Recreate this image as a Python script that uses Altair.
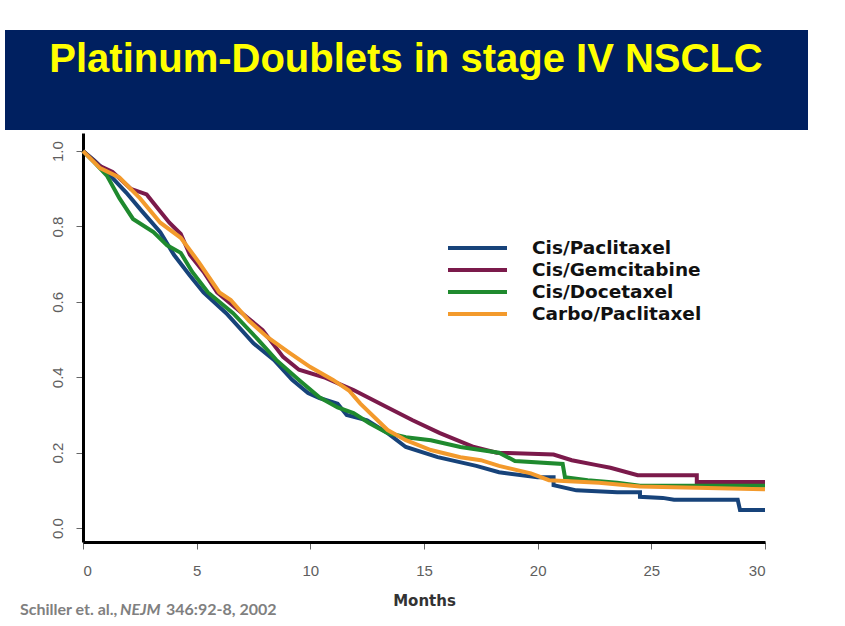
import altair as alt
import pandas as pd

# ---------------- data ----------------
title_text = "Platinum-Doublets in stage IV NSCLC"
footnote_a = "Schiller et. al., "
footnote_b = "NEJM"
footnote_c = " 346:92-8, 2002"

series_names = ["Cis/Paclitaxel", "Cis/Gemcitabine", "Cis/Docetaxel", "Carbo/Paclitaxel"]
series_colors = ["#17437A", "#7B1A4B", "#1F8A2E", "#F39A2C"]

x_ticks = [0, 5, 10, 15, 20, 25, 30]
y_ticks = [0.0, 0.2, 0.4, 0.6, 0.8, 1.0]

cis_pac_months = [0, 0.5, 1.2, 1.9, 2.6, 3.4, 4.0, 4.7, 5.3, 6.3, 7.5, 8.4, 9.2, 9.9,
                  10.4, 11.2, 11.6, 12.5, 13.4, 14.2, 15.6, 17.3, 18.3, 20.0, 20.7, 20.7,
                  21.7, 23.5, 24.5, 24.5, 25.5, 26.0, 28.8, 28.9, 30.0]
cis_pac_surv = [1.0, 0.975, 0.935, 0.89, 0.84, 0.785, 0.725, 0.67, 0.625, 0.57, 0.49, 0.446, 0.393, 0.358,
                0.345, 0.33, 0.30, 0.286, 0.252, 0.215, 0.188, 0.165, 0.148, 0.135, 0.135, 0.114,
                0.10, 0.095, 0.095, 0.083, 0.08, 0.075, 0.075, 0.048, 0.048]

cis_gem_months = [0, 0.75, 1.3, 2.1, 2.8, 3.4, 3.8, 4.3, 4.7, 5.3, 5.9, 7.2, 7.9, 8.8, 9.5,
                  10.6, 11.9, 13.4, 14.5, 15.7, 17.2, 18.2, 20.7, 21.5, 22.6, 23.2, 24.4,
                  27.0, 27.0, 30.0]
cis_gem_surv = [1.0, 0.96, 0.945, 0.90, 0.885, 0.84, 0.81, 0.78, 0.725, 0.68, 0.625, 0.56, 0.525, 0.454, 0.42,
                0.40, 0.366, 0.32, 0.286, 0.252, 0.215, 0.20, 0.195, 0.18, 0.167, 0.16, 0.14,
                0.14, 0.122, 0.122]

cis_doc_months = [0, 0.5, 1.05, 1.6, 2.2, 3.1, 3.7, 4.3, 4.8, 5.5, 6.6, 7.7, 8.5, 9.5,
                  10.4, 11.2, 11.9, 12.6, 13.4, 14.2, 15.3, 16.6, 18.3, 19.0, 21.1, 21.2,
                  22.2, 23.5, 24.5, 30.0]
cis_doc_surv = [1.0, 0.97, 0.935, 0.875, 0.82, 0.785, 0.75, 0.73, 0.68, 0.625, 0.57, 0.50, 0.446, 0.393,
                0.347, 0.32, 0.305, 0.278, 0.252, 0.241, 0.233, 0.215, 0.20, 0.178, 0.17, 0.135,
                0.127, 0.12, 0.112, 0.112]

carbo_pac_months = [0, 0.75, 1.6, 2.5, 3.4, 4.3, 5.1, 6.0, 6.5, 7.3, 8.1, 9.1, 10.0, 11.0,
                    11.7, 12.2, 13.4, 14.2, 15.3, 16.6, 17.5, 18.3, 19.7, 20.5, 22.7, 24.5, 30.0]
carbo_pac_surv = [1.0, 0.955, 0.93, 0.875, 0.81, 0.77, 0.705, 0.625, 0.605, 0.55, 0.507, 0.464, 0.427, 0.393,
                  0.365, 0.33, 0.26, 0.233, 0.207, 0.188, 0.18, 0.165, 0.145, 0.127, 0.12, 0.11, 0.103]

all_months = [cis_pac_months, cis_gem_months, cis_doc_months, carbo_pac_months]
all_surv = [cis_pac_surv, cis_gem_surv, cis_doc_surv, carbo_pac_surv]

rows = []
for name, ms, ss in zip(series_names, all_months, all_surv):
    for i, (m, s) in enumerate(zip(ms, ss)):
        rows.append({"series": name, "month": m, "surv": s, "ord": i})
df = pd.DataFrame(rows)

# ---------------- layout ----------------
W, H = 682, 409
color_scale = alt.Scale(domain=series_names, range=series_colors)

lines = alt.Chart(df).mark_line(strokeWidth=4, interpolate="linear").encode(
    x=alt.X("month:Q",
            scale=alt.Scale(domain=[0, 30], nice=False, zero=False),
            axis=alt.Axis(values=x_ticks, title="Months", grid=False,
                          labelFont="Liberation Sans", labelFontSize=15, labelColor="#5e5e5e",
                          tickColor="#666666", tickSize=7, tickWidth=1,
                          domainColor="black", domainWidth=3, labelPadding=14,
                          titleFont="DejaVu Sans", titleFontWeight="bold", titleFontSize=15,
                          titleColor="#333333", titlePadding=15)),
    y=alt.Y("surv:Q",
            scale=alt.Scale(domain=[-0.037, 1.048], nice=False, zero=False),
            axis=alt.Axis(values=y_ticks, format=".1f", title=None, grid=False,
                          labelFont="Liberation Sans", labelFontSize=15, labelColor="#5e5e5e",
                          labelAngle=270, labelAlign="center", labelBaseline="bottom",
                          labelPadding=11, tickColor="#666666", tickSize=7, tickWidth=1,
                          domainColor="black", domainWidth=3)),
    color=alt.Color("series:N", scale=color_scale, legend=None),
    order=alt.Order("ord:Q"),
)

banner_df = pd.DataFrame({"t": [title_text]})
banner = alt.Chart(banner_df).mark_rect(color="#002060").encode(
    x=alt.value(-78), x2=alt.value(725), y=alt.value(-103), y2=alt.value(-3))
title = alt.Chart(banner_df).mark_text(
    font="Liberation Sans", fontSize=40, fontWeight="bold", color="#FFFF00",
    align="center", baseline="alphabetic").encode(
    x=alt.value(323), y=alt.value(-61), text="t:N")

leg_df = pd.DataFrame({"series": series_names})
leg_y = alt.Y("series:N", scale=alt.Scale(type="point", domain=series_names, range=[115, 181], padding=0),
              axis=None)
leg_rules = alt.Chart(leg_df).mark_rule(strokeWidth=4).encode(
    x=alt.value(365), x2=alt.value(424), y=leg_y,
    color=alt.Color("series:N", scale=color_scale, legend=None))
leg_text = alt.Chart(leg_df).mark_text(
    align="left", baseline="middle", font="DejaVu Sans", fontWeight="bold", fontSize=18.5,
    color="#111111").encode(x=alt.value(449), y=leg_y, text="series:N")

fn_df = pd.DataFrame({"a": [footnote_a], "b": [footnote_b], "c": [footnote_c]})
fn_style = dict(align="left", baseline="alphabetic", font="Lato", fontWeight="bold",
                fontSize=16, color="#808080")
fn_a = alt.Chart(fn_df).mark_text(**fn_style).encode(
    x=alt.value(-63), y=alt.value(482), text="a:N")
fn_b = alt.Chart(fn_df).mark_text(fontStyle="italic", **fn_style).encode(
    x=alt.value(37), y=alt.value(482), text="b:N")
fn_c = alt.Chart(fn_df).mark_text(**fn_style).encode(
    x=alt.value(83), y=alt.value(482), text="c:N")

chart = alt.layer(banner, title, lines, leg_rules, leg_text, fn_a, fn_b, fn_c).resolve_scale(
    y="independent"
).properties(
    width=W, height=H,
    autosize=alt.AutoSizeParams(type="none"),
    padding={"left": 83, "top": 133, "right": 80, "bottom": 84},
    background="white",
).configure_view(stroke=None)

chart.save("out.html", embed_options={"renderer": "svg", "actions": False})
